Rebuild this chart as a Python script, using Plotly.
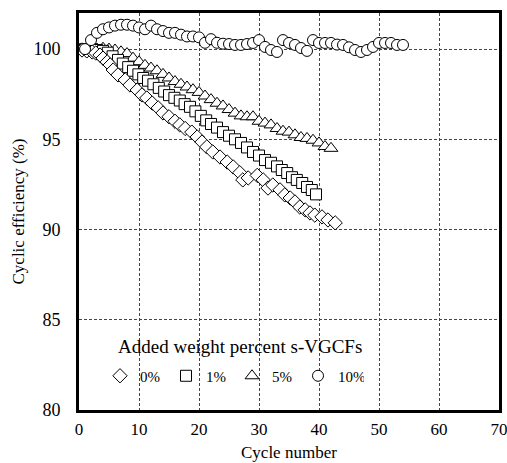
import plotly.graph_objects as go

# 0 % s-VGCFs (diamonds)
x0 = [0.5, 1.3, 2.2, 2.8, 3.5, 4.0, 4.7, 5.2, 5.7, 6.5, 7.7, 8.5, 9.7, 10.5, 11.3, 12.2,
      13.2, 14.0, 15.0, 16.0, 16.8, 17.7, 18.8, 19.7, 20.5, 21.3, 22.3, 23.5, 24.7, 25.7,
      26.8, 27.3, 28.2, 29.7, 30.7, 31.5, 32.3, 33.5, 34.3, 35.2, 36.0, 36.8, 37.7, 38.5,
      39.3, 40.5, 41.5, 42.7]
y0 = [99.95, 99.9, 99.84, 99.78, 99.67, 99.5, 99.29, 99.12, 98.84, 98.57, 98.29, 98.01,
      97.73, 97.46, 97.29, 97.01, 96.74, 96.46, 96.25, 96.0, 95.8, 95.6, 95.4, 95.13, 94.85,
      94.58, 94.3, 94.02, 93.74, 93.47, 93.15, 92.75, 92.86, 93.0, 92.75, 92.3, 92.47, 92.2,
      91.92, 91.75, 91.53, 91.25, 91.09, 90.92, 90.8, 90.7, 90.53, 90.37]

# 1 % s-VGCFs (squares)
x1 = [1.0, 2.0, 3.0, 4.0, 4.8, 5.6, 6.5, 7.3, 8.2, 9.0, 9.9, 10.7, 11.5, 12.4, 13.3, 14.2,
      15.0, 15.9, 16.8, 17.6, 18.5, 19.4, 20.3, 21.2, 22.0, 23.0, 24.0, 25.0, 26.0, 27.0,
      28.0, 29.0, 30.0, 31.0, 32.0, 33.0, 33.8, 34.7, 35.5, 36.3, 37.2, 38.0, 38.8, 39.5]
y1 = [100.0, 100.0, 99.95, 99.9, 99.8, 99.6, 99.4, 99.2, 99.0, 98.8, 98.6, 98.4, 98.25,
      98.05, 97.85, 97.65, 97.45, 97.3, 97.15, 96.95, 96.8, 96.55, 96.3, 96.05, 95.85, 95.65,
      95.4, 95.2, 95.0, 94.8, 94.55, 94.3, 94.1, 93.85, 93.7, 93.5, 93.3, 93.13, 92.9, 92.75,
      92.58, 92.36, 92.19, 91.95]

# 5 % s-VGCFs (triangles)
x5 = list(range(1, 43))
y5 = [100.0, 100.0, 100.0, 100.05, 100.0, 99.95, 99.85, 99.75, 99.5, 99.3, 99.1, 98.95,
      98.8, 98.6, 98.4, 98.2, 98.05, 97.9, 97.75, 97.6, 97.4, 97.2, 97.0, 96.85, 96.65,
      96.45, 96.3, 96.25, 96.25, 96.0, 95.9, 95.8, 95.6, 95.45, 95.4, 95.25, 95.1, 95.05,
      94.95, 94.8, 94.6, 94.5]

# 10 % s-VGCFs (circles)
x10 = list(range(1, 55))
y10 = [100.0, 100.5, 100.9, 101.1, 101.2, 101.3, 101.35, 101.35, 101.3, 101.2, 101.1, 101.3,
       101.1, 101.0, 100.9, 100.9, 100.8, 100.7, 100.7, 100.65, 100.35, 100.55, 100.35, 100.3,
       100.28, 100.23, 100.23, 100.28, 100.34, 100.5, 100.12, 99.95, 99.84, 100.5, 100.34,
       100.23, 100.06, 99.9, 100.5, 100.34, 100.34, 100.34, 100.25, 100.23, 100.1, 99.95,
       99.84, 99.95, 100.12, 100.34, 100.34, 100.34, 100.23, 100.23]

labels = ["0%", "1%", "5%", "10%"]
legend_title = "Added weight percent s-VGCFs"
x_title = "Cycle number"
y_title = "Cyclic efficiency (%)"
x_ticks = [0, 10, 20, 30, 40, 50, 60, 70]
y_ticks = [80, 85, 90, 95, 100]

FONT = "Liberation Serif, Times New Roman, serif"

fig = go.Figure()
series = [
    (x5, y5, labels[2], "triangle-up", 12, 3),
    (x1, y1, labels[1], "square", 11, 2),
    (x0, y0, labels[0], "diamond", 11, 1),
    (x10, y10, labels[3], "circle", 11, 4),
]
for xs, ys, name, sym, sz, rank in series:
    fig.add_trace(go.Scatter(
        x=xs, y=ys, mode="markers", name=name, legendrank=rank,
        marker=dict(symbol=sym, size=sz, color="white",
                    line=dict(color="black", width=1)),
    ))

fig.update_layout(
    width=507, height=463,
    margin=dict(l=79, r=8, t=13, b=53),
    paper_bgcolor="white", plot_bgcolor="white",
    font=dict(family=FONT, color="black", size=16),
    showlegend=True,
    legend=dict(
        orientation="h", x=0.05, y=0.0856, xanchor="left", yanchor="middle",
        bgcolor="rgba(0,0,0,0)",
        font=dict(size=15, family=FONT),
        entrywidth=21, entrywidthmode="pixels",
        traceorder="normal",
    ),
    annotations=[
        dict(text=legend_title, xref="paper", yref="paper",
             x=0.087, y=0.1587, xanchor="left", yanchor="middle",
             showarrow=False, font=dict(size=19, family=FONT)),
        dict(text=x_title, xref="paper", yref="paper",
             x=0.5, y=-0.1335, xanchor="center", yanchor="bottom",
             borderpad=0,
             showarrow=False, font=dict(size=17, family=FONT)),
    ],
)
fig.update_xaxes(
    range=[0, 70], tickvals=x_ticks, ticks="", ticklabelstandoff=2,
    ticklabeloverflow="allow",
    showline=True, linewidth=3, linecolor="black", mirror=True,
    showgrid=True, gridcolor="#444", gridwidth=1, griddash="3px,2px",
    zeroline=False, automargin=False,
    tickfont=dict(size=17),
)
fig.update_yaxes(
    range=[80, 102], tickvals=y_ticks, ticks="", ticklabelstandoff=12,
    ticklabeloverflow="allow",
    showline=True, linewidth=3, linecolor="black", mirror=True,
    showgrid=True, gridcolor="#444", gridwidth=1, griddash="3px,2px",
    zeroline=False, automargin=False,
    title=dict(text=y_title, font=dict(size=17), standoff=5),
    tickfont=dict(size=18),
)

fig.write_html("out.html")
